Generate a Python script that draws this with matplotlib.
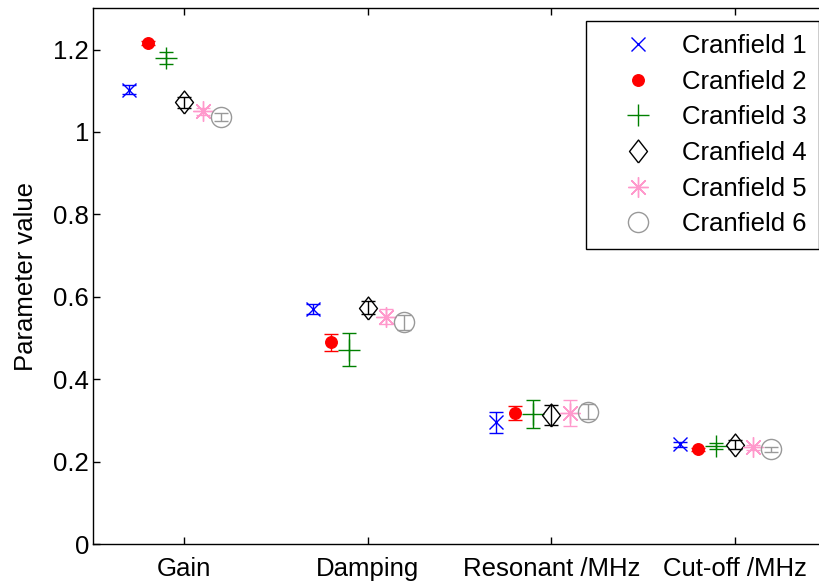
import matplotlib
matplotlib.use("Agg")
import matplotlib.pyplot as plt
from matplotlib.lines import Line2D
from matplotlib.ticker import FuncFormatter
import numpy as np

plt.rcParams['font.family'] = ['Liberation Sans', 'DejaVu Sans']

categories = ["Gain", "Damping", "Resonant /MHz", "Cut-off /MHz"]
series_names = ["Cranfield 1", "Cranfield 2", "Cranfield 3",
                "Cranfield 4", "Cranfield 5", "Cranfield 6"]

# parameter estimates per site (Gain, Damping, Resonant, Cut-off)
cranfield_1 = [1.103, 0.571, 0.296, 0.243]
cranfield_2 = [1.216, 0.490, 0.318, 0.230]
cranfield_3 = [1.180, 0.472, 0.316, 0.238]
cranfield_4 = [1.072, 0.574, 0.314, 0.242]
cranfield_5 = [1.050, 0.552, 0.318, 0.235]
cranfield_6 = [1.037, 0.538, 0.322, 0.230]

# half-widths of the uncertainty bars
err_1 = [0.012, 0.012, 0.026, 0.006]
err_2 = [0.005, 0.021, 0.017, 0.004]
err_3 = [0.015, 0.040, 0.034, 0.008]
err_4 = [0.014, 0.016, 0.025, 0.010]
err_5 = [0.008, 0.018, 0.031, 0.006]
err_6 = [0.010, 0.018, 0.018, 0.006]

values = [cranfield_1, cranfield_2, cranfield_3,
          cranfield_4, cranfield_5, cranfield_6]
errors = [err_1, err_2, err_3, err_4, err_5, err_6]

offsets = [-0.3, -0.2, -0.1, 0.0, 0.1, 0.2]

FS = 18.5

diamond = [(0, -1.15), (0.9, 0), (0, 1.15), (-0.9, 0), (0, -1.15)]
styles = [
    dict(color='#0000ff', marker='x', ms=10, mfc='none', mew=1.0),
    dict(color='#ff0000', marker='o', ms=8.3, mfc='#ff0000', mew=1.0),
    dict(color='#008000', marker='+', ms=16.5, mfc='none', mew=1.0),
    dict(color='#000000', marker=diamond, ms=16.5, mfc='none', mew=1.0),
    dict(color='#ff99cc', marker=(8, 2, 0), ms=14.5, mfc='none', mew=1.0),
    dict(color='#999999', marker='o', ms=14.5, mfc='none', mew=1.0),
]

fig = plt.figure(figsize=(8.2, 5.81), dpi=100)
ax = fig.add_axes([92.7 / 820, 1 - 544.3 / 581,
                   (826.3 - 92.7) / 820, (544.3 - 8.3) / 581])

x = np.arange(1, len(categories) + 1)
handles = []
for vals, errs, off, st, name in zip(values, errors, offsets, styles, series_names):
    ax.errorbar(x + off, vals, yerr=errs, fmt='none', ecolor=st['color'],
                elinewidth=1.0, capsize=4.7, capthick=1.0, clip_on=False)
    ax.plot(x + off, vals, linestyle='none', marker=st['marker'],
            ms=st['ms'], mec=st['color'], mfc=st['mfc'], mew=st['mew'],
            clip_on=False)
    handles.append(Line2D([], [], linestyle='none', marker=st['marker'],
                          ms=st['ms'], mec=st['color'], mfc=st['mfc'],
                          mew=st['mew'], label=name))

ax.set_xlim(0.5, 4.5)
ax.set_ylim(0, 1.3)
ax.set_xticks(x)
ax.set_xticklabels(categories)
ax.set_yticks(np.arange(0, 1.21, 0.2))
ax.yaxis.set_major_formatter(FuncFormatter(lambda v, p: f"{v:g}"))
ax.tick_params(direction='in', length=5, width=1.0, top=True, right=True,
               labelsize=FS, colors='black')
ax.tick_params(axis='x', pad=9)
ax.tick_params(axis='y', pad=2.5)
for sp in ax.spines.values():
    sp.set_linewidth(1.0)
ax.set_ylabel("Parameter value", fontsize=FS, labelpad=11)

leg = ax.legend(handles=handles, loc='upper right',
                bbox_to_anchor=(819.5 / 820, 1 - 21 / 581),
                bbox_transform=fig.transFigure, borderaxespad=0,
                fontsize=FS, frameon=True, fancybox=False, framealpha=1,
                edgecolor='black', borderpad=0.5, labelspacing=0.455,
                handlelength=3.05, handletextpad=0.19, numpoints=1)
leg.get_frame().set_linewidth(1.0)

fig.savefig("out.png", dpi=100)
